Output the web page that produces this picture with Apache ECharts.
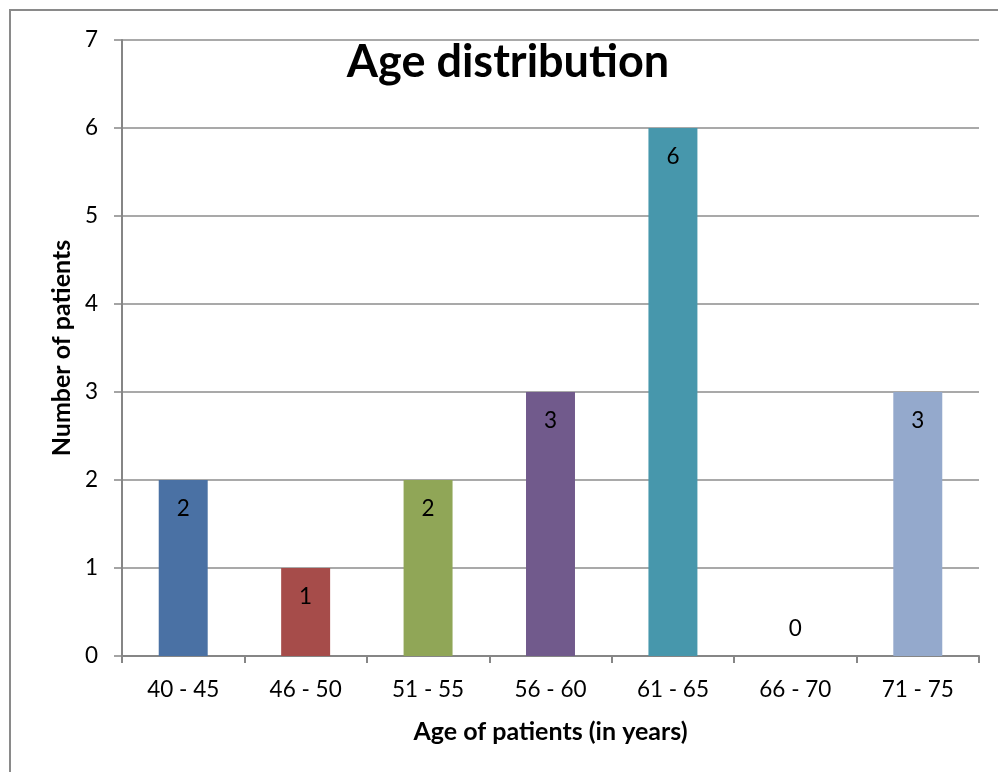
<!DOCTYPE html>
<html>
<head>
<meta charset="utf-8">
<script src="https://cdn.jsdelivr.net/npm/echarts@6/dist/echarts.min.js"></script>
<style>
html,body{margin:0;padding:0;background:#fff;}
#main{width:998px;height:772px;}
</style>
</head>
<body>
<div id="main"></div>
<script>
var titleText = 'Age distribution';
var xAxisName = 'Age of patients (in years)';
var yAxisName = 'Number of patients';
var categories = ['40 - 45', '46 - 50', '51 - 55', '56 - 60', '61 - 65', '66 - 70', '71 - 75'];
var counts = [2, 1, 2, 3, 6, 0, 3];
var barColors = ['#4A71A4', '#A64C4A', '#90A657', '#715A8C', '#4797AC', '#DB843D', '#94A9CC'];

var FONT = 'Lato, "Noto Sans", sans-serif';
var chart = echarts.init(document.getElementById('main'), null, {renderer: 'canvas'});

var seriesData = counts.map(function (v, i) {
  var d = {value: v, itemStyle: {color: barColors[i]}};
  if (v === 0) {
    d.label = {position: 'top', distance: 16};
  }
  return d;
});

chart.setOption({
  animation: false,
  backgroundColor: '#ffffff',
  graphic: [
    {type: 'rect', shape: {x: 10, y: 10, width: 1200, height: 1000},
     style: {fill: 'none', stroke: '#8a8a8a', lineWidth: 2}, z: -1, silent: true},
    {type: 'text', x: 508, y: 62,
     style: {text: titleText, fontFamily: FONT, fontWeight: 'bold', fontSize: 45, fill: '#000',
             textAlign: 'center', textVerticalAlign: 'middle'}}
  ],
  grid: {left: 122, right: 19, top: 40, bottom: 116, containLabel: false},
  xAxis: {
    type: 'category',
    data: categories,
    name: xAxisName,
    nameLocation: 'middle',
    nameGap: 63,
    nameTextStyle: {fontFamily: FONT, fontWeight: 'bold', fontSize: 25, color: '#000'},
    axisLine: {lineStyle: {color: '#868686', width: 2}},
    axisTick: {show: true, alignWithLabel: false, length: 7, lineStyle: {color: '#868686', width: 2}},
    axisLabel: {fontFamily: FONT, fontSize: 22.5, color: '#000', margin: 22},
    splitLine: {show: false}
  },
  yAxis: {
    type: 'value',
    min: 0, max: 7, interval: 1,
    name: yAxisName,
    nameLocation: 'middle',
    nameGap: 48,
    nameRotate: 90,
    nameTextStyle: {fontFamily: FONT, fontWeight: 'bold', fontSize: 25, color: '#000'},
    axisLine: {show: true, lineStyle: {color: '#868686', width: 2}},
    axisTick: {show: true, length: 8, lineStyle: {color: '#868686', width: 1.5}},
    axisLabel: {fontFamily: FONT, fontSize: 22.5, color: '#000', margin: 24},
    splitLine: {show: true, lineStyle: {color: '#8c8c8c', width: 1.5}}
  },
  series: [{
    type: 'bar',
    data: seriesData,
    barWidth: '40%',
    label: {show: true, position: 'insideTop', distance: 17, fontFamily: FONT, fontSize: 22.5, color: '#000'}
  }]
});
</script>
</body>
</html>
